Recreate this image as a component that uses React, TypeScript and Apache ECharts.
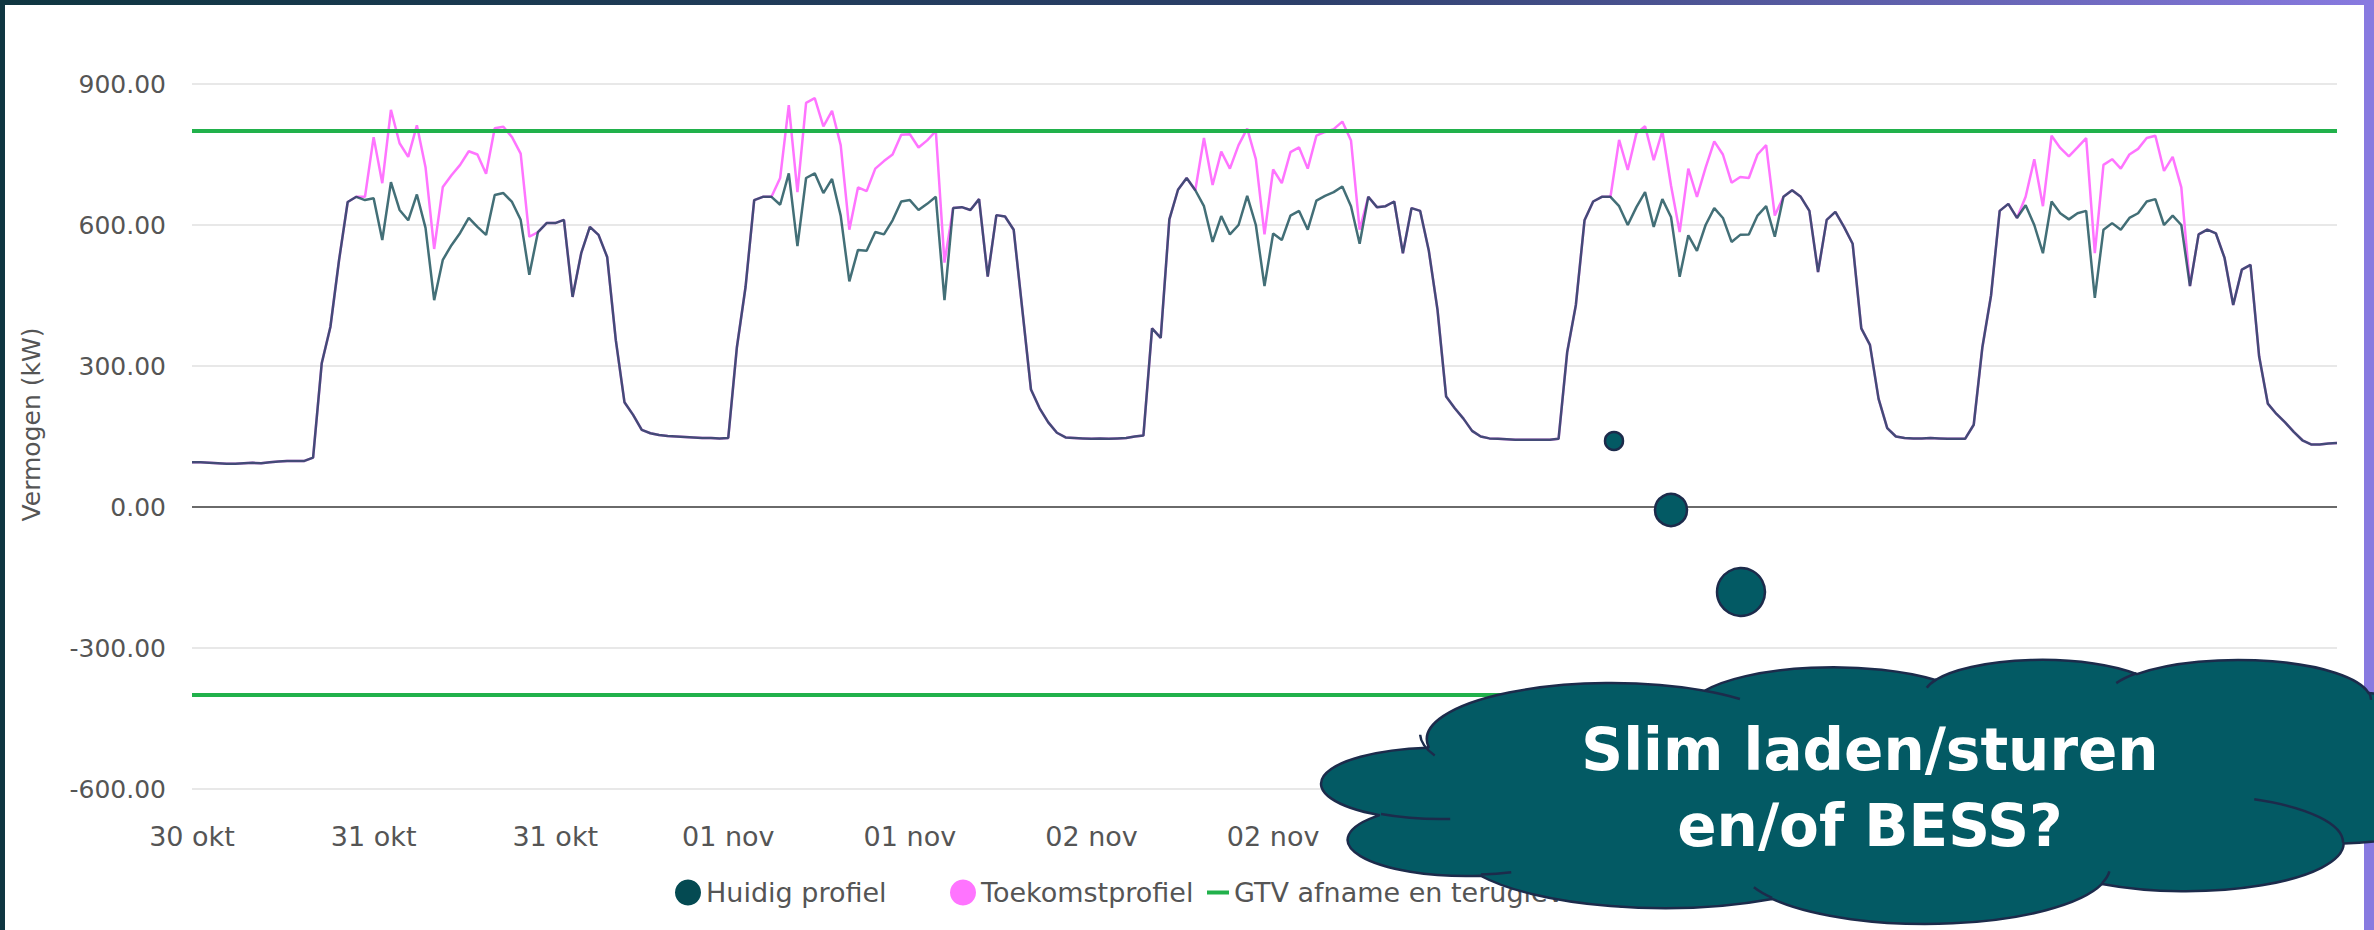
import React, { useEffect, useRef } from "react";
import * as echarts from "echarts";

// ---------- data ----------
const START_UTC = Date.UTC(2023, 9, 30, 22, 0); // first sample: 30 okt 22:00
const STEP_MINUTES = 30;
const MONTHS_NL = ["jan", "feb", "mrt", "apr", "mei", "jun", "jul", "aug", "sep", "okt", "nov", "dec"];

const huidigProfiel = [
  95, 95, 94, 93, 92, 92, 93, 94, 93, 95, 97, 98, 98, 98,
  105, 306, 383, 525, 649, 660,
  653, 657, 568, 691, 632, 610, 665, 594, 440, 526,
  557, 583, 615, 596, 579, 664, 668, 649, 611, 494,
  585, 604, 604, 611, 447, 540, 596, 579, 532, 355,
  223, 196, 164, 157, 153, 151, 150, 149, 148, 147,
  147, 146, 147, 340, 468, 653, 660, 660, 643, 710,
  555, 700, 710, 668, 698, 620, 480, 547, 545, 585,
  580, 610, 650, 653, 632, 645, 660, 440, 636, 638,
  632, 655, 490, 621, 618, 590, 420, 250, 210, 180,
  158, 148, 147, 146, 145, 146, 145, 146, 147, 150,
  152, 380, 360, 612, 675, 700, 674, 640, 564, 619,
  580, 600, 662, 600, 470, 582, 568, 620, 630, 590,
  652, 662, 670, 682, 640, 560, 660, 638, 640, 650,
  540, 636, 630, 545, 420, 235, 210, 188, 162, 150,
  146, 145, 144, 143, 143, 143, 143, 143, 145, 330,
  430, 610, 650, 660, 660, 640, 600, 638, 670, 596,
  655, 617, 490, 578, 545, 600, 636, 615, 564, 579,
  580, 620, 640, 575, 660, 674, 660, 630, 500, 611,
  628, 596, 560, 380, 345, 230, 168, 150, 147, 146,
  146, 147, 146, 145, 145, 145, 175, 340, 450, 630,
  645, 615, 642, 600, 540, 650, 625, 612, 625, 630,
  445, 590, 604, 590, 615, 625, 650, 655, 600, 620,
  600, 470, 580, 590, 582, 530, 430, 505, 515, 320,
  220, 198, 180, 160, 142, 133, 133, 135, 136,
];

const toekomstProfiel = [
  95, 95, 94, 93, 92, 92, 93, 94, 93, 95, 97, 98, 98, 98,
  105, 306, 383, 525, 649, 660,
  660, 787, 689, 845, 774, 745, 812, 723, 549, 681,
  706, 728, 757, 750, 709, 806, 809, 787, 752, 575,
  585, 604, 604, 611, 447, 540, 596, 579, 532, 355,
  223, 196, 164, 157, 153, 151, 150, 149, 148, 147,
  147, 146, 147, 340, 468, 653, 660, 660, 700, 855,
  670, 860, 870, 810, 843, 770, 590, 680, 672, 720,
  736, 750, 792, 793, 765, 780, 800, 520, 636, 638,
  632, 655, 490, 621, 618, 590, 420, 250, 210, 180,
  158, 148, 147, 146, 145, 146, 145, 146, 147, 150,
  152, 380, 360, 612, 675, 700, 674, 785, 685, 756,
  720, 770, 805, 740, 580, 718, 689, 755, 765, 720,
  790, 798, 804, 820, 780, 590, 660, 638, 640, 650,
  540, 636, 630, 545, 420, 235, 210, 188, 162, 150,
  146, 145, 144, 143, 143, 143, 143, 143, 145, 330,
  430, 610, 650, 660, 660, 781, 717, 795, 810, 738,
  800, 684, 585, 720, 660, 722, 778, 750, 690, 702,
  700, 750, 770, 620, 660, 674, 660, 630, 500, 611,
  628, 596, 560, 380, 345, 230, 168, 150, 147, 146,
  146, 147, 146, 145, 145, 145, 175, 340, 450, 630,
  645, 615, 660, 740, 640, 790, 764, 746, 765, 785,
  540, 728, 740, 720, 750, 762, 785, 790, 715, 745,
  680, 470, 580, 590, 582, 530, 430, 505, 515, 320,
  220, 198, 180, 160, 142, 133, 133, 135, 136,
];

const GTV_AFNAME = 800;
const GTV_TERUGLEVERING = -400;
const Y_MIN = -600;
const Y_MAX = 900;
const Y_INTERVAL = 300;
// tick positions of the visible date labels (the later ones lie under the cloud)
const X_TICK_INDEXES = [0, 21, 42, 62, 83, 104, 125];

const SERIES_NAMES = ["Huidig profiel", "Toekomstprofiel", "GTV afname en teruglevering"];
const CLOUD_TEXT = ["Slim laden/sturen", "en/of BESS?"];

// ---------- styles ----------
const C_HUIDIG = "#044a52";
const C_HUIDIG_LINE = "#013d48";
const C_TOEKOMST = "#ff74ff";
const C_GTV = "#21b14b";
const C_TEXT = "#555555";
const C_CLOUD = "#035a64";
const C_CLOUD_STROKE = "#1c2b4b";
const FONT = "DejaVu Sans";

const pad = (n: number) => (n < 10 ? "0" + n : "" + n);
const categories = huidigProfiel.map((_, i) => {
  const d = new Date(START_UTC + i * STEP_MINUTES * 60000);
  return `${d.getUTCFullYear()}-${pad(d.getUTCMonth() + 1)}-${pad(d.getUTCDate())} ${pad(d.getUTCHours())}:${pad(d.getUTCMinutes())}`;
});

// PowerPoint cloud preset geometry (43200 x 43200 space)
const CLOUD_START: [number, number] = [3900, 14370];
const CLOUD_ARCS = [
  [6753, 9190, -11429249, 7426832],
  [5333, 7267, -8646143, 5396714],
  [4365, 5945, -8748475, 5983381],
  [4857, 6595, -7859164, 7034504],
  [5333, 7273, -4722533, 6541615],
  [6775, 9220, -2776035, 7816140],
  [5785, 7867, 37501, 6842000],
  [6752, 9215, 1347096, 6910353],
  [7720, 10543, 3974558, 4542661],
  [4360, 5918, -16496525, 8804134],
  [4345, 5945, -14809710, 9151131],
];
const CLOUD_INNER = [
  [4693, 26177, 4345, 5945, 5204520, 1585770],
  [6928, 34899, 4360, 5918, 4416628, 686848],
  [16478, 39090, 6752, 9215, 8257449, 844866],
  [28827, 34751, 6752, 9215, 387196, 959901],
  [34129, 22954, 5785, 7867, -4217541, 4255042],
  [41798, 15354, 5333, 7273, 1819082, 1665090],
  [38324, 5426, 4857, 6595, -824660, 891534],
  [29078, 3952, 4857, 6595, -8950887, 1091722],
  [22141, 4720, 4365, 5945, -9809656, 1061181],
  [14000, 5192, 6753, 9190, -4002417, 739161],
  [4127, 15789, 6753, 9190, 9000000, 1700000],
];
const CLOUD_BOX = { x: 1322, y: 659, w: 1180, h: 264 };

function arcSeg(p: number[], wR: number, hR: number, stAng: number, swAng: number, T: any) {
  const st = (stAng / 60000) * (Math.PI / 180);
  const sw = (swAng / 60000) * (Math.PI / 180);
  const t1 = Math.atan2(wR * Math.sin(st), hR * Math.cos(st));
  const cx = p[0] - wR * Math.cos(t1);
  const cy = p[1] - hR * Math.sin(t1);
  const en = st + sw;
  const t2 = Math.atan2(wR * Math.sin(en), hR * Math.cos(en));
  const ex = cx + wR * Math.cos(t2);
  const ey = cy + hR * Math.sin(t2);
  const large = Math.abs(sw) > Math.PI ? 1 : 0;
  const sweep = sw > 0 ? 1 : 0;
  const seg = `A ${(wR * T.sx).toFixed(2)} ${(hR * T.sy).toFixed(2)} 0 ${large} ${sweep} ${(T.ox + ex * T.sx).toFixed(2)} ${(T.oy + ey * T.sy).toFixed(2)}`;
  return { seg, p: [ex, ey] };
}

function buildCloudPaths() {
  const T = { sx: CLOUD_BOX.w / 43200, sy: CLOUD_BOX.h / 43200, ox: CLOUD_BOX.x, oy: CLOUD_BOX.y };
  let p: number[] = [CLOUD_START[0], CLOUD_START[1]];
  let d = `M ${(T.ox + p[0] * T.sx).toFixed(2)} ${(T.oy + p[1] * T.sy).toFixed(2)} `;
  for (const a of CLOUD_ARCS) {
    const r = arcSeg(p, a[0], a[1], a[2], a[3], T);
    d += r.seg + " ";
    p = r.p;
  }
  d += "Z";
  let di = "";
  for (const a of CLOUD_INNER) {
    di += `M ${(T.ox + a[0] * T.sx).toFixed(2)} ${(T.oy + a[1] * T.sy).toFixed(2)} `;
    const r = arcSeg([a[0], a[1]], a[2], a[3], a[4], a[5], T);
    di += r.seg + " ";
  }
  return { outer: d, inner: di };
}

let shapesRegistered = false;
function registerShapes() {
  if (shapesRegistered) return;
  const { outer, inner } = buildCloudPaths();
  echarts.graphic.registerShape("pptCloud", (echarts.graphic as any).extendPath(outer, {}));
  echarts.graphic.registerShape("pptCloudInner", (echarts.graphic as any).extendPath(inner, {}));
  shapesRegistered = true;
}

function makeLegend(name: string, left: number, icon: string, w: number, h: number) {
  return {
    data: [name],
    left,
    top: 874,
    orient: "horizontal",
    icon,
    itemWidth: w,
    itemHeight: h,
    selectedMode: false,
    textStyle: { color: C_TEXT, fontSize: 27, fontFamily: FONT },
  };
}

function cloudText(text: string, y: number) {
  return {
    type: "text",
    z: 103,
    style: {
      text,
      x: 1870,
      y,
      fill: "#ffffff",
      fontFamily: "DejaVu Sans",
      fontWeight: "bold",
      fontSize: 58,
      textAlign: "center",
      textVerticalAlign: "middle",
    },
  };
}

function buildOption() {
  const green = C_GTV;
  return {
    animation: false,
    backgroundColor: "#ffffff",
    textStyle: { fontFamily: FONT },
    grid: { left: 192, right: 37, top: 84, bottom: 141, containLabel: false },
    xAxis: {
      type: "category",
      data: categories,
      boundaryGap: false,
      axisLine: { show: false },
      axisTick: { show: false },
      splitLine: { show: false },
      axisLabel: {
        interval: (i: number) => X_TICK_INDEXES.indexOf(i) >= 0,
        formatter: (v: string) => `${v.slice(8, 10)} ${MONTHS_NL[parseInt(v.slice(5, 7), 10) - 1]}`,
        color: C_TEXT,
        fontSize: 27,
        fontFamily: FONT,
        margin: 34,
      },
    },
    yAxis: {
      type: "value",
      min: Y_MIN,
      max: Y_MAX,
      interval: Y_INTERVAL,
      name: "Vermogen (kW)",
      nameLocation: "middle",
      nameGap: 148,
      nameTextStyle: { color: C_TEXT, fontSize: 25, fontFamily: FONT, padding: [0, 0, 0, 24] },
      axisLine: { show: false },
      axisTick: { show: false },
      axisLabel: {
        formatter: (v: number) => v.toFixed(2),
        color: C_TEXT,
        fontSize: 25,
        fontFamily: FONT,
        margin: 26,
      },
      splitLine: { lineStyle: { color: "#e8e8e8", width: 2 } },
    },
    legend: [
      makeLegend(SERIES_NAMES[0], 670, "circle", 26, 26),
      makeLegend(SERIES_NAMES[1], 945, "circle", 26, 26),
      makeLegend(SERIES_NAMES[2], 1202, "rect", 22, 4),
    ],
    series: [
      {
        name: SERIES_NAMES[1],
        type: "line",
        data: toekomstProfiel,
        showSymbol: false,
        symbol: "circle",
        itemStyle: { color: C_TOEKOMST },
        lineStyle: { color: C_TOEKOMST, width: 2.5 },
        z: 2,
      },
      {
        name: SERIES_NAMES[0],
        type: "line",
        data: huidigProfiel,
        showSymbol: false,
        symbol: "circle",
        itemStyle: { color: C_HUIDIG },
        lineStyle: { color: C_HUIDIG_LINE, width: 2.5, opacity: 0.74 },
        z: 3,
        markLine: {
          silent: true,
          symbol: ["none", "none"],
          label: { show: false },
          lineStyle: { color: "#6a6a6a", width: 2, type: "solid" },
          data: [{ yAxis: 0 }],
        },
      },
      {
        name: SERIES_NAMES[2],
        type: "line",
        data: [],
        showSymbol: false,
        itemStyle: { color: green },
        lineStyle: { color: green, width: 4 },
        z: 4,
        markLine: {
          silent: true,
          symbol: ["none", "none"],
          label: { show: false },
          lineStyle: { color: green, width: 4, type: "solid" },
          data: [{ yAxis: GTV_AFNAME }, { yAxis: GTV_TERUGLEVERING }],
        },
      },
    ],
    graphic: {
      elements: [
        {
          type: "rect",
          z: 100,
          shape: { x: 0, y: 0, width: 2374, height: 5 },
          style: {
            fill: new echarts.graphic.LinearGradient(0, 0, 1, 0, [
              { offset: 0, color: "#0f3641" },
              { offset: 0.55, color: "#2c3f6a" },
              { offset: 1, color: "#887ae0" },
            ]),
          },
        },
        { type: "rect", z: 100, shape: { x: 0, y: 0, width: 5, height: 930 }, style: { fill: "#0f3641" } },
        { type: "rect", z: 100, shape: { x: 2364, y: 0, width: 10, height: 930 }, style: { fill: "#887ae0" } },
        { type: "circle", z: 100, shape: { cx: 1614, cy: 441, r: 9 }, style: { fill: C_CLOUD, stroke: C_CLOUD_STROKE, lineWidth: 2.5 } },
        { type: "circle", z: 100, shape: { cx: 1671, cy: 510, r: 16 }, style: { fill: C_CLOUD, stroke: C_CLOUD_STROKE, lineWidth: 2.5 } },
        { type: "circle", z: 100, shape: { cx: 1741, cy: 592, r: 24 }, style: { fill: C_CLOUD, stroke: C_CLOUD_STROKE, lineWidth: 2.5 } },
        { type: "pptCloud", z: 101, x: 0, y: 0, style: { fill: C_CLOUD, stroke: C_CLOUD_STROKE, lineWidth: 2.5 } },
        { type: "pptCloudInner", z: 102, x: 0, y: 0, style: { fill: "none", stroke: C_CLOUD_STROKE, lineWidth: 2.5 } },
        cloudText(CLOUD_TEXT[0], 750),
        cloudText(CLOUD_TEXT[1], 826),
      ],
    },
  };
}

export default function App() {
  const ref = useRef<HTMLDivElement>(null);
  useEffect(() => {
    const el = ref.current;
    if (!el) return;
    registerShapes();
    const chart = echarts.init(el, null, { renderer: "svg" });
    chart.setOption(buildOption() as any);
    return () => chart.dispose();
  }, []);
  return (
    <div
      ref={ref}
      style={{ position: "fixed", left: 0, top: 0, width: 2374, height: 930, background: "#ffffff" }}
    />
  );
}
